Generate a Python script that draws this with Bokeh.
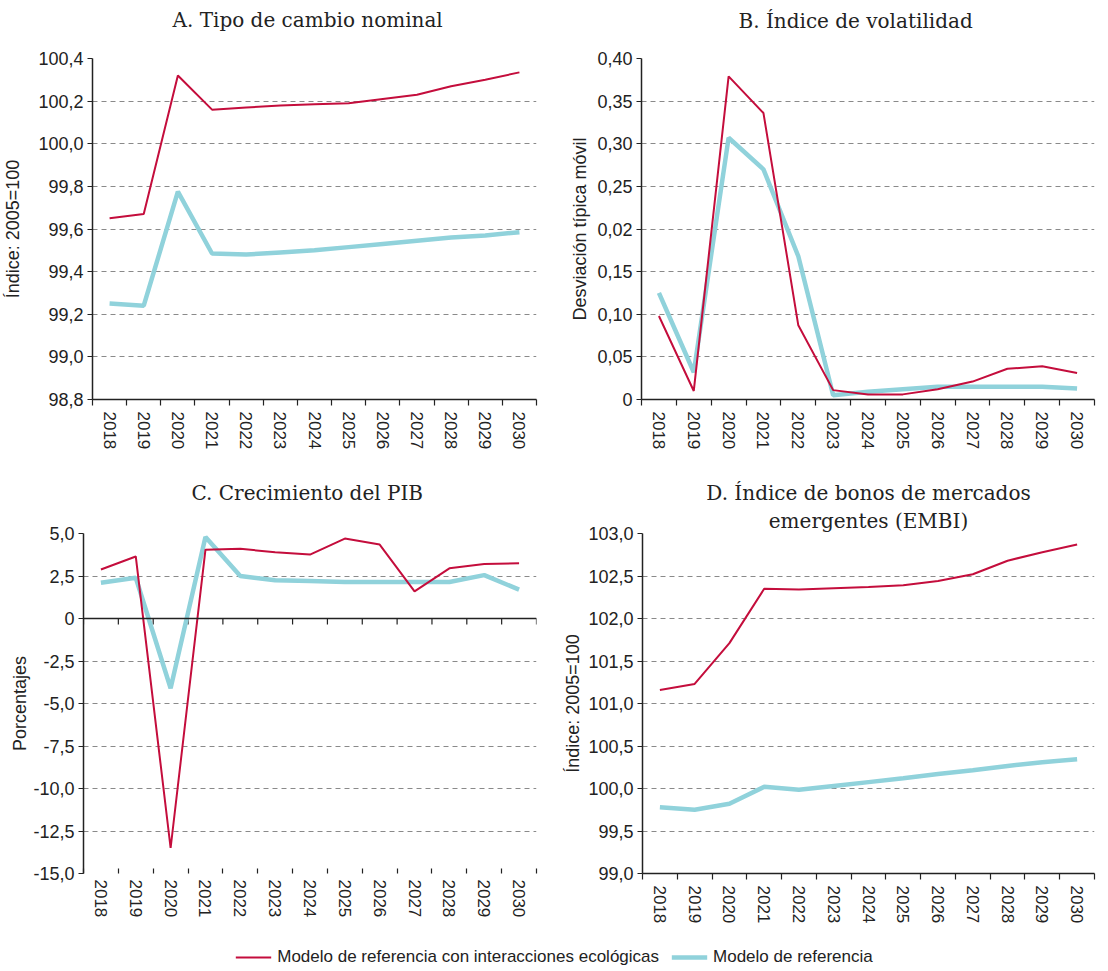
from bokeh.plotting import figure
from bokeh.layouts import column, row
from bokeh.models import Range1d, FixedTicker, Title, Span, Legend, LegendItem
from bokeh.embed import file_html
from bokeh.resources import INLINE

# ---- data -------------------------------------------------------------
years = ["2018", "2019", "2020", "2021", "2022", "2023", "2024",
         "2025", "2026", "2027", "2028", "2029", "2030"]

# A. Tipo de cambio nominal (índice 2005=100)
tc_eco = [99.65, 99.67, 100.32, 100.16, 100.17, 100.18, 100.185,
          100.19, 100.21, 100.23, 100.27, 100.30, 100.335]
tc_ref = [99.25, 99.24, 99.775, 99.485, 99.48, 99.49, 99.50,
          99.515, 99.53, 99.545, 99.56, 99.57, 99.585]
tc_ticks = [98.8, 99.0, 99.2, 99.4, 99.6, 99.8, 100.0, 100.2, 100.4]
tc_labels = ["98,8", "99,0", "99,2", "99,4", "99,6", "99,8", "100,0", "100,2", "100,4"]

# B. Índice de volatilidad (desviación típica móvil)
vol_eco = [0.098, 0.010, 0.379, 0.336, 0.087, 0.011, 0.006,
           0.006, 0.012, 0.021, 0.036, 0.039, 0.031]
vol_ref = [0.125, 0.032, 0.307, 0.270, 0.168, 0.005, 0.009,
           0.012, 0.015, 0.015, 0.015, 0.015, 0.013]
vol_ticks = [0.0, 0.05, 0.10, 0.15, 0.20, 0.25, 0.30, 0.35, 0.40]
vol_labels = ["0", "0,05", "0,10", "0,15", "0,02", "0,25", "0,30", "0,35", "0,40"]

# C. Crecimiento del PIB (porcentajes)
pib_eco = [2.88, 3.65, -13.5, 4.05, 4.1, 3.9, 3.76,
           4.7, 4.35, 1.6, 2.95, 3.2, 3.25]
pib_ref = [2.1, 2.4, -4.1, 4.8, 2.5, 2.25, 2.2,
           2.15, 2.15, 2.15, 2.15, 2.55, 1.7]
pib_ticks = [-15.0, -12.5, -10.0, -7.5, -5.0, -2.5, 0.0, 2.5, 5.0]
pib_labels = ["-15,0", "-12,5", "-10,0", "-7,5", "-5,0", "-2,5", "0", "2,5", "5,0"]

# D. Índice de bonos de mercados emergentes (EMBI)
embi_eco = [101.16, 101.23, 101.71, 102.35, 102.34, 102.355, 102.37,
            102.39, 102.44, 102.52, 102.68, 102.78, 102.87]
embi_ref = [99.78, 99.75, 99.82, 100.02, 99.985, 100.03, 100.075,
            100.12, 100.17, 100.215, 100.265, 100.31, 100.345]
embi_ticks = [99.0, 99.5, 100.0, 100.5, 101.0, 101.5, 102.0, 102.5, 103.0]
embi_labels = ["99,0", "99,5", "100,0", "100,5", "101,0", "101,5", "102,0", "102,5", "103,0"]

label_eco = "Modelo de referencia con interacciones ecológicas"
label_ref = "Modelo de referencia"

# ---- style ------------------------------------------------------------
RED = "#C40D3C"
TEAL = "#90D2DB"
INK = "#222222"
SANS = "Liberation Sans"
SERIF = "DejaVu Serif"
TITLE_SIZE = "20px"

n = len(years)
centers = [i + 0.5 for i in range(n)]       # one slot per year
bounds = [float(i) for i in range(n + 1)]   # slot edges carry the tick marks


def title_obj(text, align, offset, standoff):
    return Title(text=text, text_font=SERIF, text_font_size=TITLE_SIZE,
                 text_font_style="normal", text_color=INK, align=align,
                 offset=offset, standoff=standoff)


def gap(px):
    # blank band between the heading and the plotting area
    return Title(text=" ", text_font_size="1px", standoff=px)


def panel(titles, ylabel, eco, ref, ticks, labels, w, h, borders,
          zero_line=False, label_standoff=8):
    left, right, top, bottom = borders
    p = figure(width=w, height=h, output_backend="svg", toolbar_location=None,
               x_range=Range1d(0, n), y_range=Range1d(ticks[0], ticks[-1]),
               min_border_left=left, min_border_right=right,
               min_border_top=top, min_border_bottom=bottom,
               title=None)
    p.outline_line_color = None
    p.background_fill_color = "white"
    p.border_fill_color = "white"

    # headings, listed from the plotting area outwards
    for t in titles:
        p.add_layout(t, "above")

    # x axis: year labels centred in slots, tick marks on slot edges
    xa = p.xaxis[0]
    xa.ticker = FixedTicker(ticks=centers, minor_ticks=bounds)
    xa.major_label_overrides = {c: y for c, y in zip(centers, years)}
    xa.major_label_orientation = "vertical"
    xa.major_tick_in = 0
    xa.major_tick_out = 0
    xa.minor_tick_line_color = INK
    xa.minor_tick_line_width = 1.2
    xa.major_label_text_font = SANS
    xa.major_label_text_font_size = "17px"
    xa.major_label_text_color = INK
    xa.major_label_standoff = 6
    xa.axis_line_color = INK
    xa.axis_line_width = 1.5
    if zero_line:
        xa.axis_line_color = None
        xa.minor_tick_in = 5
        xa.minor_tick_out = 0
    else:
        xa.minor_tick_in = 0
        xa.minor_tick_out = 6

    ya = p.yaxis[0]
    ya.ticker = FixedTicker(ticks=ticks, minor_ticks=[])
    ya.major_label_overrides = {v: s for v, s in zip(ticks, labels)}
    ya.major_tick_in = 0
    ya.major_tick_out = 5
    ya.major_tick_line_color = INK
    ya.major_tick_line_width = 1.2
    ya.axis_line_color = INK
    ya.axis_line_width = 1.5
    ya.major_label_text_font = SANS
    ya.major_label_text_font_size = "18px"
    ya.major_label_text_color = INK
    ya.major_label_standoff = 4
    ya.axis_label = ylabel
    ya.axis_label_text_font = SANS
    ya.axis_label_text_font_size = "18px"
    ya.axis_label_text_font_style = "normal"
    ya.axis_label_text_color = INK
    ya.axis_label_standoff = label_standoff

    p.xgrid.visible = False
    p.ygrid.ticker = FixedTicker(ticks=ticks)
    p.ygrid.grid_line_color = "#8a8a8a"
    p.ygrid.grid_line_dash = "5 4"
    p.ygrid.grid_line_width = 1

    if zero_line:
        p.add_layout(Span(location=0, dimension="width", line_color=INK, line_width=1.5))
        tick_len = (ticks[-1] - ticks[0]) / 340 * 6
        p.segment(x0=bounds, y0=[0] * len(bounds), x1=bounds,
                  y1=[-tick_len] * len(bounds), line_color=INK, line_width=1.2)

    p.line(centers, ref, line_color=TEAL, line_width=4.5)
    p.line(centers, eco, line_color=RED, line_width=2)
    return p


pA = panel([gap(22), title_obj("A. Tipo de cambio nominal", "left", 80, 4)],
           "Índice: 2005=100", tc_eco, tc_ref, tc_ticks, tc_labels,
           560, 462, (90, 24, 58, 63), label_standoff=12)
pB = panel([gap(21), title_obj("B. Índice de volatilidad", "left", 97, 4)],
           "Desviación típica móvil", vol_eco, vol_ref, vol_ticks, vol_labels,
           548, 462, (81, 14, 57, 62), label_standoff=4)
pC = panel([gap(24), title_obj("C. Crecimiento del PIB", "left", 108, 4)],
           "Porcentajes", pib_eco, pib_ref, pib_ticks, pib_labels,
           560, 480, (83, 24, 71, 69), zero_line=True, label_standoff=0)
pD = panel([title_obj("emergentes (EMBI)", "center", 0, 2),
            title_obj("D. Índice de bonos de mercados", "center", 0, 2)],
           "Índice: 2005=100", embi_eco, embi_ref, embi_ticks, embi_labels,
           548, 480, (80, 14, 68, 69), label_standoff=2)

# ---- shared legend strip ------------------------------------------------
pL = figure(width=1108, height=29, output_backend="svg", toolbar_location=None,
            x_range=Range1d(0, 1), y_range=Range1d(0, 1),
            min_border=0, min_border_left=0, min_border_right=0,
            min_border_top=0, min_border_bottom=0)
pL.outline_line_color = None
pL.axis.visible = False
pL.grid.visible = False
# hidden copies of the two series: they only lend their styling to the legend keys
r_eco = pL.line(centers, tc_eco, line_color=RED, line_width=2, visible=False)
r_ref = pL.line(centers, tc_ref, line_color=TEAL, line_width=4.5, visible=False)
legend = Legend(items=[LegendItem(label=label_eco, renderers=[r_eco]),
                       LegendItem(label=label_ref, renderers=[r_ref])],
                orientation="horizontal", location="center",
                label_text_font=SANS, label_text_font_size="17px",
                label_text_color=INK, glyph_width=36, glyph_height=20,
                label_standoff=6, spacing=12, padding=2, margin=0,
                border_line_color=None, background_fill_alpha=0)
pL.add_layout(legend, "center")

layout = column(row(pA, pB), row(pC, pD), pL)

open("out.html", "w").write(file_html(layout, INLINE))
